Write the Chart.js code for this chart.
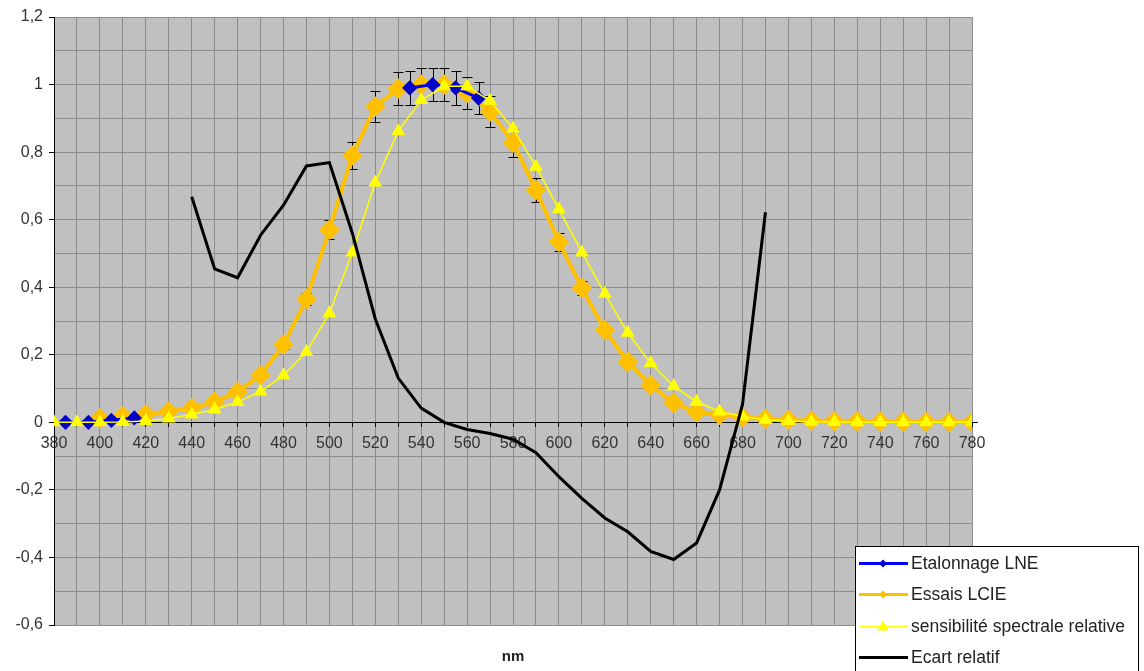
<!DOCTYPE html>
<html>
<head>
<meta charset="utf-8">
<script src="https://cdn.jsdelivr.net/npm/chart.js@4.4.1/dist/chart.umd.min.js"></script>
<style>
  html, body { margin: 0; padding: 0; background: #fff; }
  #wrap { width: 1144px; height: 671px; position: relative; }
</style>
</head>
<body>
<div id="wrap"><canvas id="spectre"></canvas></div>
<script>
// Etalonnage LNE (null breaks the line between the two measured zones)
const lneNm = [385, 395, 405, 415, 425, 535, 545, 555, 565];
const lneVal = [0.0, 0.0, 0.006, 0.013, null, 0.99, 1.0, 0.99, 0.96];

// Essais LCIE
const lcieNm = [400, 410, 420, 430, 440, 450, 460, 470, 480, 490, 500, 510, 520, 530, 540, 550, 560, 570, 580, 590,
  600, 610, 620, 630, 640, 650, 660, 670, 680, 690, 700, 710, 720, 730, 740, 750, 760, 770, 780];
const lcieVal = [0.012, 0.018, 0.024, 0.032, 0.042, 0.06, 0.09, 0.14, 0.23, 0.365, 0.57, 0.79, 0.935, 0.988, 1.0, 1.0, 0.975, 0.92, 0.828, 0.688,
  0.534, 0.398, 0.273, 0.179, 0.11, 0.057, 0.03, 0.022, 0.015, 0.01, 0.007, 0.005, 0.004, 0.003, 0.002, 0.002, 0.001, 0.001, 0.001];

// sensibilité spectrale relative
const sensNm = [380, 390, 400, 410, 420, 430, 440, 450, 460, 470, 480, 490, 500, 510, 520, 530, 540, 550, 560, 570,
  580, 590, 600, 610, 620, 630, 640, 650, 660, 670, 680, 690, 700, 710, 720, 730, 740, 750, 760, 770, 780];
const sensVal = [0.0, 0.0, 0.0004, 0.0012, 0.004, 0.0116, 0.023, 0.038, 0.06, 0.091, 0.139, 0.208, 0.323, 0.503, 0.71, 0.862, 0.954, 0.995, 0.995, 0.952,
  0.87, 0.757, 0.631, 0.503, 0.381, 0.265, 0.175, 0.107, 0.061, 0.032, 0.017, 0.008, 0.004, 0.002, 0.001, 0.0005, 0.0002, 0.0001, 0.0001, 0.0, 0.0];

// Ecart relatif
const ecartNm = [440, 450, 460, 470, 480, 490, 500, 510, 520, 530, 540, 550, 560, 570, 580, 590, 600, 610, 620, 630,
  640, 650, 660, 670, 680, 690];
const ecartVal = [0.668, 0.454, 0.428, 0.554, 0.643, 0.759, 0.769, 0.56, 0.306, 0.131, 0.042, 0.0, -0.021, -0.033, -0.05, -0.09, -0.161, -0.225, -0.283, -0.324,
  -0.382, -0.406, -0.357, -0.2, 0.053, 0.622];

const errPct = 0.05; // barres d'erreur en % de la valeur

const toPoints = (xs, ys) => xs.map((x, i) => ({ x: x, y: ys[i] }));
const FONT = '"Liberation Sans", Arial, sans-serif';
Chart.defaults.font.family = FONT;
Chart.defaults.font.size = 16;
Chart.defaults.color = '#222';

// gray plot background
const plotBg = {
  id: 'plotBg',
  beforeDraw(chart) {
    const { ctx, chartArea: a } = chart;
    ctx.save();
    ctx.fillStyle = '#c0c0c0';
    ctx.fillRect(a.left, a.top, a.width, a.height);
    ctx.restore();
  }
};

// error bars on the datasets flagged errBars, drawn under the markers
const errorBars = {
  id: 'errorBars',
  beforeDatasetsDraw(chart) {
    const { ctx } = chart;
    const ys = chart.scales.y;
    ctx.save();
    ctx.strokeStyle = '#000';
    ctx.lineWidth = 1;
    chart.data.datasets.forEach((ds, i) => {
      if (!ds.errBars) return;
      const meta = chart.getDatasetMeta(i);
      meta.data.forEach((pt, j) => {
        const v = ds.data[j].y;
        if (v === null) return;
        const e = Math.abs(v) * errPct;
        const x = Math.round(pt.x) + 0.5;
        const yT = Math.round(ys.getPixelForValue(v + e)) + 0.5;
        const yB = Math.round(ys.getPixelForValue(v - e)) + 0.5;
        ctx.beginPath();
        ctx.moveTo(x, yT); ctx.lineTo(x, yB);
        ctx.moveTo(x - 5, yT); ctx.lineTo(x + 5, yT);
        ctx.moveTo(x - 5, yB); ctx.lineTo(x + 5, yB);
        ctx.stroke();
      });
    });
    ctx.restore();
  }
};

// boxed legend overlapping the lower right corner
const boxLegend = {
  id: 'boxLegend',
  afterDraw(chart) {
    const { ctx } = chart;
    ctx.save();
    ctx.fillStyle = '#fff';
    ctx.strokeStyle = '#000';
    ctx.lineWidth = 1;
    ctx.fillRect(855.5, 546.5, 283, 130);
    ctx.strokeRect(855.5, 546.5, 283, 130);
    chart.data.datasets.forEach((ds, i) => {
      const y = Math.round(562.5 + i * 31.5);
      ctx.strokeStyle = ds.borderColor;
      ctx.lineWidth = Math.min(ds.borderWidth, 3);
      ctx.beginPath();
      ctx.moveTo(859, y + 0.5);
      ctx.lineTo(908, y + 0.5);
      ctx.stroke();
      const cx = 883, cy = y + 0.5;
      ctx.fillStyle = ds.pointBackgroundColor || ds.borderColor;
      if (ds.pointStyle === 'rectRot' && ds.pointRadius > 0) {
        ctx.beginPath();
        ctx.moveTo(cx - 4, cy); ctx.lineTo(cx, cy - 4); ctx.lineTo(cx + 4, cy); ctx.lineTo(cx, cy + 4);
        ctx.closePath(); ctx.fill();
      } else if (ds.pointStyle === 'triangle') {
        ctx.beginPath();
        ctx.moveTo(cx, cy - 6); ctx.lineTo(cx + 5.5, cy + 4); ctx.lineTo(cx - 5.5, cy + 4);
        ctx.closePath(); ctx.fill();
      }
      ctx.fillStyle = '#222';
      ctx.font = '17.5px ' + FONT;
      ctx.textBaseline = 'middle';
      ctx.textAlign = 'left';
      ctx.fillText(ds.label, 911, y + 1);
    });
    ctx.restore();
  }
};

const isMajor = v => Math.round(v * 10) % 2 === 0;

new Chart(document.getElementById('spectre'), {
  type: 'line',
  data: {
    datasets: [
      {
        label: 'Etalonnage LNE',
        data: toPoints(lneNm, lneVal),
        borderColor: '#0000ff',
        backgroundColor: '#0000c8',
        pointBackgroundColor: '#0000c8',
        pointBorderColor: '#0000c8',
        borderWidth: 3,
        pointStyle: 'rectRot',
        pointRadius: 5.5,
        spanGaps: false,
        errBars: true,
        order: 2
      },
      {
        label: 'Essais LCIE',
        data: toPoints(lcieNm, lcieVal),
        borderColor: '#ffc000',
        backgroundColor: '#ffc000',
        pointBackgroundColor: '#ffc000',
        pointBorderColor: '#ffc000',
        borderWidth: 4,
        pointStyle: 'rectRot',
        pointRadius: 7.5,
        errBars: true,
        order: 3
      },
      {
        label: 'sensibilité spectrale relative',
        data: toPoints(sensNm, sensVal),
        borderColor: '#ffff00',
        backgroundColor: '#ffff00',
        pointBackgroundColor: '#ffff00',
        pointBorderColor: '#ffff00',
        borderWidth: 1.5,
        pointStyle: 'triangle',
        pointRadius: 6.5,
        order: 1
      },
      {
        label: 'Ecart relatif',
        data: toPoints(ecartNm, ecartVal),
        borderColor: '#000000',
        backgroundColor: '#000000',
        borderWidth: 3,
        pointRadius: 0,
        order: 0
      }
    ]
  },
  options: {
    responsive: true,
    maintainAspectRatio: false,
    animation: false,
    layout: { padding: { left: 0, top: 17, right: 172, bottom: 0 } },
    plugins: {
      legend: { display: false },
      tooltip: { enabled: false }
    },
    scales: {
      x: {
        type: 'linear',
        min: 380,
        max: 780,
        position: { y: 0 },
        grid: { color: '#8c8c8c', lineWidth: 1, tickColor: '#000', tickLength: 4 },
        border: { color: '#000', width: 1 },
        ticks: {
          stepSize: 10,
          autoSkip: false,
          maxRotation: 0,
          padding: 8,
          color: '#333',
          callback: v => (v % 20 === 0 ? String(v) : '')
        }
      },
      x2: {
        type: 'linear',
        position: 'bottom',
        min: 380,
        max: 780,
        grid: { display: false },
        border: { display: false },
        ticks: { display: false },
        title: {
          display: true,
          text: 'nm',
          color: '#222',
          font: { size: 15, weight: 'bold' },
          padding: { top: 0, bottom: 5 }
        },
        afterFit(scale) { scale.height = 46; }
      },
      y: {
        min: -0.6,
        max: 1.2,
        grid: {
          color: '#8c8c8c',
          lineWidth: 1,
          tickLength: 5,
          tickColor: c => (isMajor(c.tick.value) ? '#000' : 'rgba(0,0,0,0)')
        },
        border: { color: '#000', width: 1 },
        ticks: {
          stepSize: 0.1,
          padding: 6,
          color: '#333',
          callback: v => {
            const n = Math.round(v * 10);
            if (n % 2 !== 0) return '';
            return String(n / 10).replace('.', ',');
          }
        },
        afterFit(scale) { scale.width = 54; }
      }
    }
  },
  plugins: [plotBg, errorBars, boxLegend]
});
</script>
</body>
</html>
